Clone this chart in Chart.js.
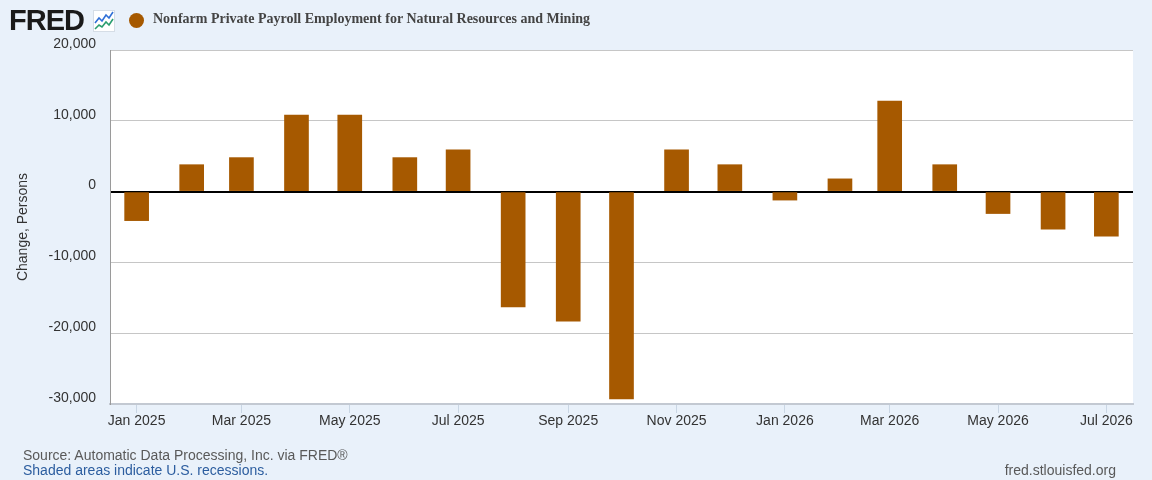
<!DOCTYPE html>
<html>
<head>
<meta charset="utf-8">
<script src="https://cdn.jsdelivr.net/npm/chart.js@4"></script>
<style>
  html, body { margin: 0; padding: 0; }
  body { width: 1152px; height: 480px; background: #e9f1fa; position: relative; overflow: hidden; font-family: "Liberation Sans", Arial, sans-serif; }
  #c { position: absolute; left: 0; top: 0; }
  .abs { position: absolute; white-space: nowrap; }
  #fred { left: 9px; top: 4px; font: bold 29px "Liberation Sans", Arial, sans-serif; letter-spacing: -1px; color: #1a1a1a; }
  #icon { left: 93px; top: 10px; }
  #dot { left: 128.5px; top: 12.5px; width: 15px; height: 15px; border-radius: 50%; background: #a65900; }
  #title { left: 153px; top: 11px; font: bold 14px "Liberation Serif", "Times New Roman", serif; color: #444; }
  #src { left: 23px; top: 447px; font: 14px "Liberation Sans", Arial, sans-serif; color: #595959; }
  #shade { left: 23px; top: 462px; font: 14px "Liberation Sans", Arial, sans-serif; color: #2c5d9f; }
  #url { right: 36px; top: 462px; font: 14px "Liberation Sans", Arial, sans-serif; color: #595959; }
</style>
</head>
<body>
<canvas id="c" width="1152" height="480"></canvas>
<div id="fred" class="abs">FRED</div>
<svg id="icon" class="abs" width="22" height="22" viewBox="0 0 22 22">
  <rect x="0.5" y="0.5" width="21" height="21" fill="#ffffff" stroke="#d5dde6" stroke-width="1"/>
  <polyline points="2,13 6,8 9,11 13,5 16,8 20,2" fill="none" stroke="#2f6fd6" stroke-width="1.6"/>
  <polyline points="2,19 6,15 9,17 13,12 16,15 20,9" fill="none" stroke="#2a9d6f" stroke-width="1.6"/>
</svg>
<div id="dot" class="abs"></div>
<div id="title" class="abs">Nonfarm Private Payroll Employment for Natural Resources and Mining</div>
<div id="src" class="abs">Source: Automatic Data Processing, Inc. via FRED®</div>
<div id="shade" class="abs">Shaded areas indicate U.S. recessions.</div>
<div id="url" class="abs">fred.stlouisfed.org</div>
<script>
// ---- data ----
const months = ['2025-01','2025-02','2025-03','2025-04','2025-05','2025-06','2025-07','2025-08','2025-09','2025-10',
                '2025-11','2025-12','2026-01','2026-02','2026-03','2026-04','2026-05','2026-06','2026-07'];
const changes = [-4100, 3800, 4800, 10800, 10800, 4800, 5900, -16300, -18300, -29300,
                 5900, 3800, -1200, 1800, 12800, 3800, -3100, -5300, -6300];
const tickMonths = ['2025-01','2025-03','2025-05','2025-07','2025-09','2025-11','2026-01','2026-03','2026-05','2026-07'];
const tickLabels = ['Jan 2025','Mar 2025','May 2025','Jul 2025','Sep 2025','Nov 2025','Jan 2026','Mar 2026','May 2026','Jul 2026'];
const yTicks = [-30000, -20000, -10000, 0, 10000, 20000];

// days since 2025-01-01
const EPOCH = Date.UTC(2025, 0, 1);
function dayOf(m) {
  const [y, mo] = m.split('-').map(Number);
  return (Date.UTC(y, mo - 1, 1) - EPOCH) / 86400000;
}
const points = months.map((m, i) => ({ x: dayOf(m), y: changes[i] }));
const tickDays = tickMonths.map(dayOf);

const plotBg = {
  id: 'plotBg',
  beforeDraw(chart) {
    const { ctx, chartArea: a } = chart;
    ctx.save();
    ctx.fillStyle = '#ffffff';
    ctx.fillRect(a.left, a.top, a.right - a.left, a.bottom - a.top);
    ctx.restore();
  }
};

new Chart(document.getElementById('c'), {
  type: 'bar',
  data: {
    datasets: [{
      data: points,
      backgroundColor: '#a65900',
      borderWidth: 0,
      barThickness: 24
    }]
  },
  plugins: [plotBg],
  options: {
    responsive: false,
    animation: false,
    layout: { padding: { top: 50, right: 19, bottom: 0, left: 0 } },
    plugins: { legend: { display: false }, tooltip: { enabled: false } },
    scales: {
      x: {
        type: 'linear',
        offset: false,
        min: dayOf('2025-01') - 15,
        max: dayOf('2026-07') + 15,
        afterBuildTicks(scale) { scale.ticks = tickDays.map(v => ({ value: v })); },
        afterFit(scale) { scale.height = 76; },
        ticks: {
          autoSkip: false, maxRotation: 0, padding: 0,
          font: { family: '"Liberation Sans", Arial, sans-serif', size: 14 },
          color: '#333333',
          callback(v) { const i = tickDays.indexOf(v); return i >= 0 ? tickLabels[i] : ''; }
        },
        grid: { offset: false, drawOnChartArea: false, drawTicks: true, tickLength: 9, color: '#c9d6e4', lineWidth: 1 },
        border: { display: true, color: '#c3c9d2', width: 2 }
      },
      y: {
        min: -30000, max: 20000,
        afterBuildTicks(scale) { scale.ticks = yTicks.map(v => ({ value: v })); },
        afterFit(scale) { scale.width = 110; },
        ticks: {
          padding: 14, labelOffset: -6,
          font: { family: '"Liberation Sans", Arial, sans-serif', size: 14 },
          color: '#333333',
          callback(v) { return Number(v).toLocaleString('en-US'); }
        },
        grid: {
          drawTicks: false,
          color: ctx => (ctx.tick && ctx.tick.value === 0) ? '#000000' : '#c6c6c6',
          lineWidth: ctx => (ctx.tick && ctx.tick.value === 0) ? 2 : 1
        },
        border: { display: true, color: '#9a9a9a', width: 1 },
        title: {
          display: true, text: 'Change, Persons',
          font: { family: '"Liberation Sans", Arial, sans-serif', size: 14 },
          color: '#333333',
          padding: { top: 15, bottom: 0 }
        }
      }
    }
  }
});
</script>
</body>
</html>
